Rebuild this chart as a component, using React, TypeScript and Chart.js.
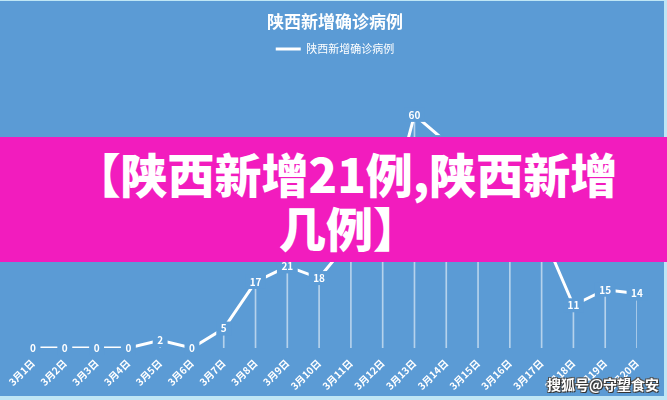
import React, { useEffect, useRef } from "react";
import { Chart, registerables } from "chart.js";

Chart.register(...registerables);

const categories = [
  "3月1日", "3月2日", "3月3日", "3月4日", "3月5日", "3月6日", "3月7日",
  "3月8日", "3月9日", "3月10日", "3月11日", "3月12日", "3月13日", "3月14日",
  "3月15日", "3月16日", "3月17日", "3月18日", "3月19日", "3月20日",
];
const cases = [0, 0, 0, 0, 2, 0, 5, 17, 21, 18, 28, 29, 60, 53, 42, 36, 30, 11, 15, 14];
const seriesName = "陕西新增确诊病例";
const chartTitle = "陕西新增确诊病例";
const bannerLines = ["【陕西新增21例,陕西新增", "几例】"];
const watermark = "搜狐号@守望食安";

const BLUE = "#5B9BD5";
const CJK = '"Noto Sans CJK SC", "Noto Sans", sans-serif';

const pointLabels = {
  id: "pointLabels",
  afterDatasetsDraw(chart: any) {
    const ctx = chart.ctx;
    const meta = chart.getDatasetMeta(1);
    const data = chart.data.datasets[1].data;
    ctx.save();
    ctx.font = `bold 10px ${CJK}`;
    ctx.textAlign = "center";
    ctx.textBaseline = "middle";
    meta.data.forEach((pt: any, i: number) => {
      const txt = String(data[i]);
      const w = ctx.measureText(txt).width + 9;
      ctx.fillStyle = BLUE;
      ctx.fillRect(pt.x - w / 2, pt.y - 7, w, 14);
      ctx.fillStyle = "#ffffff";
      ctx.fillText(txt, pt.x, pt.y);
    });
    ctx.restore();
  },
};

export default function App() {
  const ref = useRef<HTMLCanvasElement | null>(null);

  useEffect(() => {
    document.body.style.margin = "0";
    if (!ref.current) return;
    const chart = new Chart(ref.current, {
      type: "line",
      data: {
        labels: categories,
        datasets: [
          {
            type: "bar",
            label: "drop",
            data: cases,
            backgroundColor: "rgba(255,255,255,0.55)",
            barThickness: 1,
            borderWidth: 0,
          } as any,
          {
            type: "line",
            label: seriesName,
            data: cases,
            borderColor: "#ffffff",
            borderWidth: 3,
            pointRadius: 0,
            tension: 0,
            fill: false,
          },
        ],
      },
      options: {
        animation: false,
        responsive: false,
        layout: { padding: { left: 33, right: 30, top: 0, bottom: 0 } },
        plugins: {
          tooltip: { enabled: false },
          title: {
            display: true,
            text: chartTitle,
            color: "#ffffff",
            font: { family: CJK, size: 17, weight: "bold" },
            padding: { top: 11, bottom: 8 },
          },
          legend: {
            display: true,
            labels: {
              color: "#ffffff",
              font: { family: CJK, size: 11 },
              usePointStyle: true,
              pointStyleWidth: 25,
              boxHeight: 11,
              padding: 4,
              generateLabels: () => [
                {
                  text: seriesName,
                  fillStyle: "#ffffff",
                  strokeStyle: "#ffffff",
                  lineWidth: 3,
                  pointStyle: "line",
                  hidden: false,
                  datasetIndex: 1,
                  fontColor: "#ffffff",
                } as any,
              ],
            },
          },
        },
        scales: {
          x: {
            offset: false,
            grid: { display: false, drawTicks: false },
            border: { display: false },
            ticks: {
              color: "#ffffff",
              font: { family: CJK, size: 10, weight: "bold" },
              minRotation: 45,
              maxRotation: 45,
              autoSkip: false,
              padding: 9,
            },
            afterFit: (scale: any) => {
              scale.height = 52;
            },
          },
          y: {
            display: false,
            min: 0,
            max: 73,
          },
        },
      },
      plugins: [pointLabels],
    });
    return () => chart.destroy();
  }, []);

  return (
    <div style={{ position: "relative", width: 667, height: 400, background: "#BFE6F5", overflow: "hidden" }}>
      <div style={{ position: "absolute", left: 0, top: 1, width: 664, height: 395, background: BLUE }} />
      <canvas ref={ref} width={667} height={400} style={{ position: "absolute", left: 0, top: 0 }} />
      <div
        style={{
          position: "absolute",
          left: 0,
          top: 137,
          width: 667,
          height: 125,
          background: "#F21CBE",
          color: "#ffffff",
          fontFamily: CJK,
          fontWeight: 900,
          fontSize: 47,
          lineHeight: "54px",
          textAlign: "center",
          boxSizing: "border-box",
          paddingTop: 9,
          paddingLeft: 24,
          whiteSpace: "nowrap",
        }}
      >
        <div>{bannerLines[0]}</div>
        <div style={{ paddingLeft: 8 }}>{bannerLines[1]}</div>
      </div>
      <div
        style={{
          position: "absolute",
          left: 547,
          top: 374,
          fontFamily: CJK,
          fontWeight: 700,
          fontSize: 14,
          color: "#ffffff",
          textShadow: "1px 1px 0 #333, -1px -1px 0 #555, 1px -1px 0 #555, -1px 1px 0 #555",
          whiteSpace: "nowrap",
        }}
      >
        {watermark}
      </div>
    </div>
  );
}
